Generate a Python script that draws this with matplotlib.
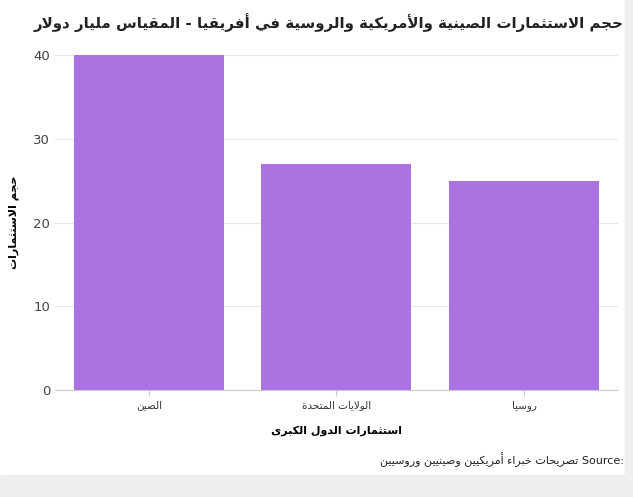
import matplotlib
matplotlib.use("Agg")
import matplotlib.pyplot as plt
from matplotlib.patches import Rectangle

categories = ["الصين", "الولايات المتحدة", "روسيا"]
values = [40, 27, 25]
title = "حجم الاستثمارات الصينية والأمريكية والروسية في أفريقيا - المقياس مليار دولار"
ylabel = "حجم الاستثمارات"
xlabel = "استثمارات الدول الكبرى"
source = "تصريحات خبراء أمريكيين وصينيين وروسيين"

# simple Arabic shaping: (isolated, final, initial, medial)
F = {
 'ء': (0xFE80,), 'آ': (0xFE81, 0xFE82), 'أ': (0xFE83, 0xFE84), 'إ': (0xFE87, 0xFE88),
 'ا': (0xFE8D, 0xFE8E), 'ب': (0xFE8F, 0xFE90, 0xFE91, 0xFE92), 'ة': (0xFE93, 0xFE94),
 'ت': (0xFE95, 0xFE96, 0xFE97, 0xFE98), 'ث': (0xFE99, 0xFE9A, 0xFE9B, 0xFE9C),
 'ج': (0xFE9D, 0xFE9E, 0xFE9F, 0xFEA0), 'ح': (0xFEA1, 0xFEA2, 0xFEA3, 0xFEA4),
 'خ': (0xFEA5, 0xFEA6, 0xFEA7, 0xFEA8), 'د': (0xFEA9, 0xFEAA), 'ذ': (0xFEAB, 0xFEAC),
 'ر': (0xFEAD, 0xFEAE), 'ز': (0xFEAF, 0xFEB0), 'س': (0xFEB1, 0xFEB2, 0xFEB3, 0xFEB4),
 'ش': (0xFEB5, 0xFEB6, 0xFEB7, 0xFEB8), 'ص': (0xFEB9, 0xFEBA, 0xFEBB, 0xFEBC),
 'ع': (0xFEC9, 0xFECA, 0xFECB, 0xFECC), 'ف': (0xFED1, 0xFED2, 0xFED3, 0xFED4),
 'ق': (0xFED5, 0xFED6, 0xFED7, 0xFED8), 'ك': (0xFED9, 0xFEDA, 0xFEDB, 0xFEDC),
 'ل': (0xFEDD, 0xFEDE, 0xFEDF, 0xFEE0), 'م': (0xFEE1, 0xFEE2, 0xFEE3, 0xFEE4),
 'ن': (0xFEE5, 0xFEE6, 0xFEE7, 0xFEE8), 'ه': (0xFEE9, 0xFEEA, 0xFEEB, 0xFEEC),
 'و': (0xFEED, 0xFEEE), 'ى': (0xFEEF, 0xFEF0), 'ي': (0xFEF1, 0xFEF2, 0xFEF3, 0xFEF4),
}
LA = {'ا': (0xFEFB, 0xFEFC), 'أ': (0xFEF7, 0xFEF8), 'إ': (0xFEF9, 0xFEFA), 'آ': (0xFEF5, 0xFEF6)}

def joins_next(c):
    return c in F and len(F[c]) == 4

def shape(s):
    out = []
    i = 0
    n = len(s)
    while i < n:
        c = s[i]
        if c not in F:
            out.append(c); i += 1; continue
        prev = s[i-1] if i > 0 else ''
        pj = joins_next(prev)
        if c == 'ل' and i + 1 < n and s[i+1] in LA:
            out.append(chr(LA[s[i+1]][1 if pj else 0])); i += 2; continue
        nxt = s[i+1] if i + 1 < n else ''
        nj = nxt in F and joins_next(c)
        f = F[c]
        if len(f) == 1:
            g = f[0]
        elif pj and nj:
            g = f[3]
        elif pj:
            g = f[1]
        elif nj:
            g = f[2]
        else:
            g = f[0]
        out.append(chr(g)); i += 1
    return ''.join(out)[::-1]

plt.rcParams['font.family'] = ['DejaVu Sans']
fig = plt.figure(figsize=(6.33, 4.97), dpi=100)
fig.patches.append(Rectangle((0, 0), 1, 0.045, transform=fig.transFigure, color='#efefef', zorder=-1))
fig.patches.append(Rectangle((0.987, 0), 0.013, 1, transform=fig.transFigure, color='#efefef', zorder=-1))
ax = fig.add_axes([0.087, 0.215, 0.889, 0.674])
x = range(len(categories))
ax.bar(x, values, width=0.8, color='#ac72e1', zorder=2)
ax.set_xticks(list(x))
ax.set_xticklabels([shape(c) for c in categories], fontsize=7.5, color='#333333')
ax.set_ylim(0, 40)
ax.set_yticks([0, 10, 20, 30, 40])
ax.tick_params(axis='y', labelsize=9.5, colors='#444444', length=0)
ax.tick_params(axis='x', length=4, color='#cccccc')
ax.grid(axis='y', color='#e6e6e6', linewidth=0.8, zorder=0)
for s in ['top', 'right', 'left']:
    ax.spines[s].set_visible(False)
ax.spines['bottom'].set_color('#cccccc')
ax.set_xlim(-0.5, 2.5)
ax.set_xlabel(shape(xlabel), fontsize=8, fontweight='bold', labelpad=10)
ax.set_ylabel(shape(ylabel), fontsize=8, fontweight='bold', labelpad=10)
fig.text(0.985, 0.955, shape(title), ha='right', va='center', fontsize=10.8, fontweight='bold', color='#222222')
fig.text(0.985, 0.075, shape(source) + ' Source:', ha='right', va='center', fontsize=8, color='#222222')
fig.savefig('out.png', dpi=100)
